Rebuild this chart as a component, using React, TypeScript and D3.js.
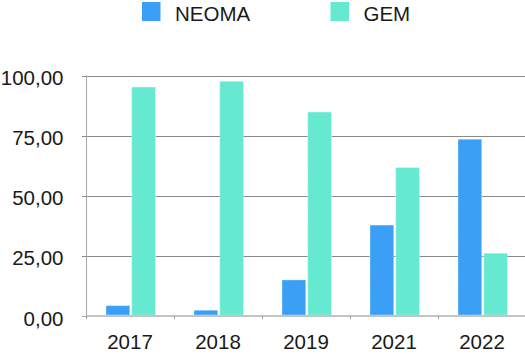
import React from "react";
import * as d3 from "d3";

const years = ["2017", "2018", "2019", "2021", "2022"];
const seriesNames = ["NEOMA", "GEM"];
const neoma = [4.3, 2.4, 15.0, 37.8, 73.5];
const gem = [95.2, 97.6, 84.8, 61.7, 26.1];
const yTicks = [0, 25, 50, 75, 100];
const colors = ["#3a9ff5", "#66e9d1"];

const W = 525;
const H = 354;
const FONT = "'Liberation Sans', Arial, Helvetica, sans-serif";

export default function App() {
  const x0 = d3.scaleBand<string>().domain(years).range([86, 526]).padding(0);
  const x1 = d3.scaleBand<string>().domain(seriesNames).range([20, 69.5]).paddingInner(0.08);
  const y = d3.scaleLinear().domain([0, 100]).range([316, 75.5]);
  const values = [neoma, gem];
  const fmt = (v: number) => d3.format(".2f")(v).replace(".", ",");

  const legendX = [142, 330.5];

  return (
    <div style={{ position: "fixed", left: 0, top: 0, width: W, height: H, background: "#fff" }}>
      <svg width={W} height={H} style={{ display: "block" }} fontFamily={FONT}>
        {/* legend */}
        {seriesNames.map((s, i) => (
          <g key={s}>
            <rect x={legendX[i]} y={2} width={18.5} height={19} fill={colors[i]} />
            <text x={legendX[i] + 33} y={20.5} fontSize={20.5} fill="#1a1a1a">
              {s}
            </text>
          </g>
        ))}
        {/* gridlines */}
        {yTicks.map((t) => (
          <g key={t}>
            {t > 0 && (
              <line x1={82} x2={W} y1={Math.round(y(t)) + 0.5} y2={Math.round(y(t)) + 0.5} stroke="#8a8a8a" strokeWidth={1} />
            )}
            {t === 0 && <line x1={82} x2={86} y1={y(t) + 0.5} y2={y(t) + 0.5} stroke="#aaa" strokeWidth={1} />}
            <text x={63.5} y={y(t) + 9.5} fontSize={20.5} textAnchor="end" fill="#1a1a1a">
              {fmt(t)}
            </text>
          </g>
        ))}
        {/* left axis */}
        <line x1={86.5} x2={86.5} y1={y(100)} y2={317} stroke="#a8a8a8" strokeWidth={1} />
        {/* bars */}
        {years.map((yr, i) => (
          <g key={yr} transform={`translate(${x0(yr)},0)`}>
            {seriesNames.map((s, j) => (
              <rect
                key={s}
                x={x1(s)}
                y={y(values[j][i])}
                width={x1.bandwidth()}
                height={315 - y(values[j][i])}
                fill={colors[j]}
                stroke="#e8f6ff"
                strokeWidth={0.6}
                strokeDasharray="1.5 1"
              />
            ))}
          </g>
        ))}
        {/* bottom axis */}
        <line x1={86} x2={W} y1={316} y2={316} stroke="#b0b0b0" strokeWidth={1.6} />
        {years.map((yr) => (
          <line key={"t" + yr} x1={(x0(yr) as number) + 0.5} x2={(x0(yr) as number) + 0.5} y1={316} y2={319} stroke="#999" />
        ))}
        {years.map((yr) => (
          <text
            key={"l" + yr}
            x={(x0(yr) as number) + x0.bandwidth() / 2}
            y={349}
            fontSize={20.5}
            textAnchor="middle"
            fill="#1a1a1a"
          >
            {yr}
          </text>
        ))}
      </svg>
    </div>
  );
}
